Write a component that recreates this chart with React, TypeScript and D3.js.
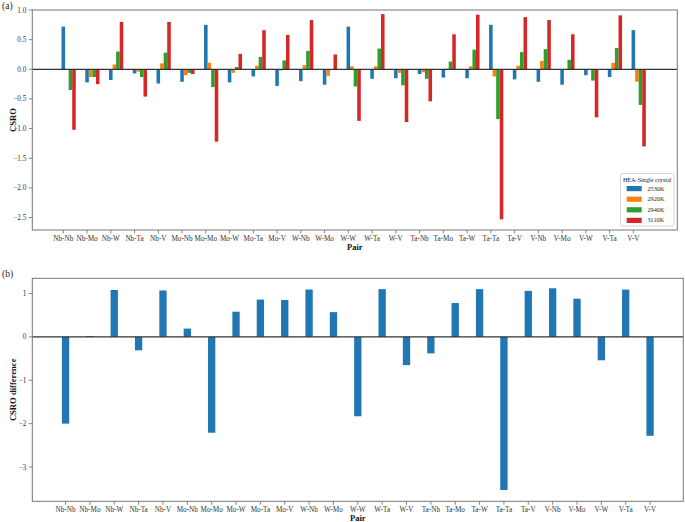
import React, { useRef, useEffect } from 'react';
import * as d3 from 'd3';

const pairs = [
  'Nb-Nb', 'Nb-Mo', 'Nb-W', 'Nb-Ta', 'Nb-V', 'Mo-Nb', 'Mo-Mo', 'Mo-W', 'Mo-Ta', 'Mo-V',
  'W-Nb', 'W-Mo', 'W-W', 'W-Ta', 'W-V', 'Ta-Nb', 'Ta-Mo', 'Ta-W', 'Ta-Ta', 'Ta-V',
  'V-Nb', 'V-Mo', 'V-W', 'V-Ta', 'V-V',
];

const temps = ['2530K', '2920K', '2940K', '3110K'];
const colors = ['#1f77b4', '#ff7f0e', '#2ca02c', '#d62728'];

const csro2530 = [0.72, -0.22, -0.18, -0.07, -0.24, -0.21, 0.75, -0.22, -0.12, -0.28,
  -0.20, -0.26, 0.72, -0.16, -0.15, -0.08, -0.14, -0.15, 0.75, -0.17, -0.21, -0.26, -0.10, -0.13, 0.66];
const csro2920 = [-0.01, -0.13, 0.08, -0.04, 0.10, -0.10, 0.11, -0.06, 0.06, -0.02,
  0.07, -0.11, 0.05, 0.05, -0.06, -0.05, 0.01, 0.05, -0.12, 0.06, 0.14, 0.0, 0.0, 0.11, -0.21];
const csro2940 = [-0.35, -0.13, 0.30, -0.13, 0.28, -0.06, -0.30, 0.04, 0.21, 0.15,
  0.31, 0.0, -0.29, 0.35, -0.27, -0.16, 0.13, 0.33, -0.84, 0.29, 0.34, 0.16, -0.19, 0.36, -0.60];
const csro3110 = [-1.02, -0.25, 0.80, -0.46, 0.80, -0.08, -1.22, 0.26, 0.66, 0.58,
  0.83, 0.25, -0.87, 0.93, -0.89, -0.54, 0.59, 0.92, -2.53, 0.88, 0.83, 0.59, -0.81, 0.91, -1.30];
const series = [csro2530, csro2920, csro2940, csro3110];

const csroDiff = [-2.0, 0.02, 1.08, -0.31, 1.07, 0.19, -2.21, 0.58, 0.86, 0.85,
  1.09, 0.57, -1.83, 1.10, -0.65, -0.38, 0.78, 1.10, -3.53, 1.06, 1.12, 0.88, -0.54, 1.09, -2.28];

const topTicks = [1.0, 0.5, 0.0, -0.5, -1.0, -1.5, -2.0, -2.5];
const bottomTicks = [1, 0, -1, -2, -3];

const FONT = '"Liberation Serif", "Times New Roman", serif';
const fmtMinus = (s: string) => s.replace('-', '\u2212');

export default function App() {
  const svgRef = useRef<SVGSVGElement>(null);

  useEffect(() => {
    const svg = d3.select(svgRef.current);
    svg.selectAll('*').remove();
    svg.style('font-family', FONT);

    // draws a frame, ticks, labels and zero line for one panel
    function drawAxes(g, x, y, yTicks, yFmt, yLabel, panelLabel) {
      const [x0, x1] = x.range();
      const [y0, y1] = y.range(); // y0 bottom, y1 top

      // y ticks
      yTicks.forEach(t => {
        g.append('line').attr('x1', x0 - 3.5).attr('x2', x0).attr('y1', y(t)).attr('y2', y(t))
          .attr('stroke', '#666').attr('stroke-width', 0.8);
        g.append('text').attr('x', x0 - 6).attr('y', y(t)).attr('dy', '0.35em')
          .attr('text-anchor', 'end').attr('font-size', 7.2).attr('fill', '#333')
          .text(fmtMinus(yFmt(t)));
      });

      // x ticks
      pairs.forEach((p, i) => {
        g.append('line').attr('x1', x(i)).attr('x2', x(i)).attr('y1', y0).attr('y2', y0 + 3.5)
          .attr('stroke', '#666').attr('stroke-width', 0.8);
        g.append('text').attr('x', x(i)).attr('y', y0 + 10.5)
          .attr('text-anchor', 'middle').attr('font-size', 7.2).attr('fill', '#333')
          .text(p);
      });

      // zero line
      g.append('line').attr('x1', x0).attr('x2', x1).attr('y1', y(0)).attr('y2', y(0))
        .attr('stroke', '#333').attr('stroke-width', 1.3);

      // frame
      g.append('rect').attr('x', x0).attr('y', y1).attr('width', x1 - x0).attr('height', y0 - y1)
        .attr('fill', 'none').attr('stroke', '#777').attr('stroke-width', 1);

      // axis labels
      g.append('text').attr('transform', `translate(16,${(y0 + y1) / 2}) rotate(-90)`)
        .attr('text-anchor', 'middle').attr('font-size', 8.6).attr('font-weight', 'bold')
        .attr('fill', '#111').text(yLabel);
      g.append('text').attr('x', (x0 + x1) / 2).attr('y', y0 + 19.5)
        .attr('text-anchor', 'middle').attr('font-size', 8.6).attr('font-weight', 'bold')
        .attr('fill', '#111').text('Pair');

      g.append('text').attr('x', 2).attr('y', y1 - 1.5)
        .attr('font-size', 9.6).attr('fill', '#222').text(panelLabel);
    }

    // Panel (a): grouped bars
    const xa = d3.scaleLinear().domain([-1.305, 25.85]).range([32.3, 677.3]);
    const ya = d3.scaleLinear().domain([-2.71, 1.0]).range([230, 10]);
    const ga = svg.append('g');
    const bw = 0.15;

    series.forEach((vals, j) => {
      ga.append('g').selectAll('rect')
        .data(vals)
        .enter()
        .append('rect')
        .attr('x', (d, i) => xa(i + j * bw - bw / 2))
        .attr('width', xa(bw) - xa(0))
        .attr('y', d => ya(Math.max(0, d)))
        .attr('height', d => Math.abs(ya(d) - ya(0)))
        .attr('fill', colors[j]);
    });
    drawAxes(ga, xa, ya, topTicks, d3.format('.1f'), 'CSRO', '(a)');

    // legend
    const lg = ga.append('g').attr('transform', 'translate(620.5,173.5)');
    lg.append('rect').attr('width', 53.5).attr('height', 52.5).attr('rx', 2)
      .attr('fill', 'white').attr('stroke', '#ccc').attr('stroke-width', 0.8);
    lg.append('text').attr('x', 26.7).attr('y', 8).attr('text-anchor', 'middle')
      .attr('font-size', 6.2).attr('fill', '#222').text('HEA-Single crystal');
    temps.forEach((t, j) => {
      const cy = 15 + j * 10.6;
      lg.append('rect').attr('x', 6.2).attr('y', cy - 2.5).attr('width', 15).attr('height', 5.2)
        .attr('fill', colors[j]);
      lg.append('text').attr('x', 27).attr('y', cy).attr('dy', '0.35em')
        .attr('font-size', 6.2).attr('fill', '#222').text(t);
    });

    // Panel (b): difference bars
    const xb = d3.scaleLinear().domain([-1.365, 25.365]).range([32.3, 683.3]);
    const yb = d3.scaleLinear().domain([-3.79, 1.35]).range([501.3, 278.3]);
    const gb = svg.append('g');
    const bw2 = 0.3;

    gb.selectAll('rect')
      .data(csroDiff)
      .enter()
      .append('rect')
      .attr('x', (d, i) => xb(i - bw2 / 2))
      .attr('width', xb(bw2) - xb(0))
      .attr('y', d => yb(Math.max(0, d)))
      .attr('height', d => Math.abs(yb(d) - yb(0)))
      .attr('fill', colors[0]);
    drawAxes(gb, xb, yb, bottomTicks, d3.format('d'), 'CSRO difference', '(b)');
  }, []);

  return (
    <svg
      ref={svgRef}
      width={685}
      height={522}
      style={{ position: 'absolute', left: 0, top: 0, background: 'white' }}
    />
  );
}
